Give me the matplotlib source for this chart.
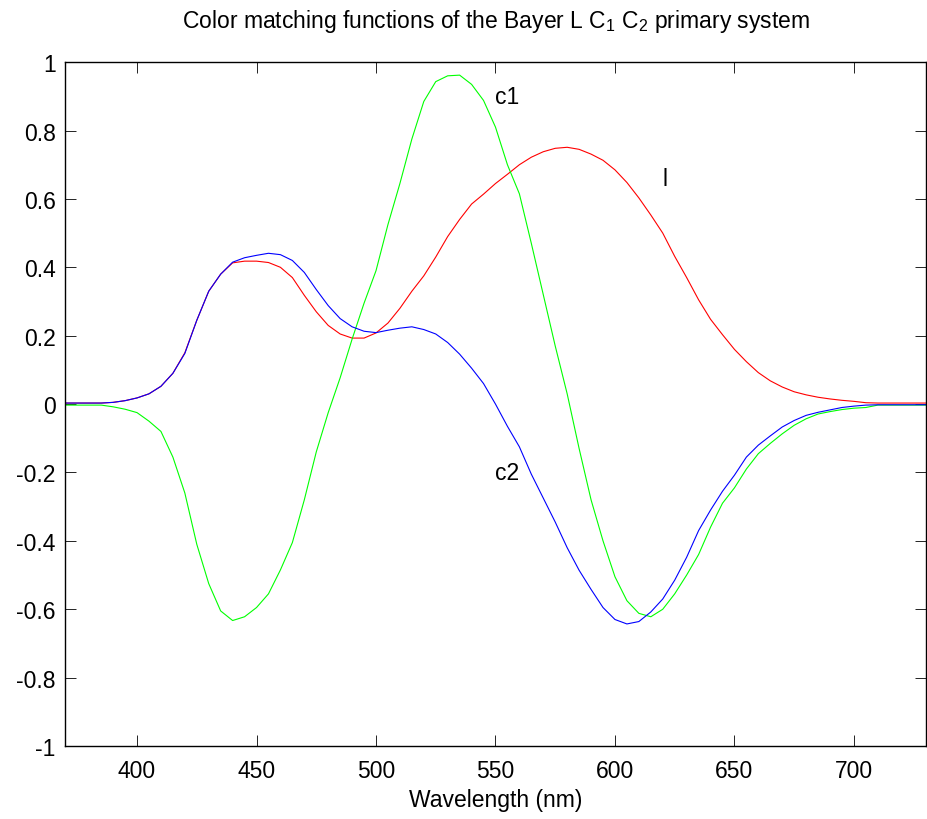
import matplotlib
matplotlib.use('Agg')
import matplotlib.pyplot as plt

plt.rcParams['font.family'] = ['Liberation Sans', 'DejaVu Sans']
plt.rcParams['mathtext.fontset'] = 'custom'
plt.rcParams['mathtext.rm'] = 'Liberation Sans'
plt.rcParams['mathtext.it'] = 'Liberation Sans'

# Wavelengths (nm), 5 nm step
wavelength = list(range(370, 735, 5))

# l (red)
l_vals = [0.003, 0.003, 0.003, 0.003, 0.005, 0.010, 0.018, 0.030, 0.052, 0.090,
          0.150, 0.245, 0.330, 0.380, 0.413, 0.418, 0.418, 0.414, 0.400, 0.370,
          0.318, 0.270, 0.230, 0.205, 0.193, 0.193, 0.208, 0.237, 0.280, 0.330,
          0.375, 0.430, 0.490, 0.540, 0.585, 0.614, 0.645, 0.672, 0.700, 0.722,
          0.738, 0.748, 0.751, 0.745, 0.731, 0.713, 0.685, 0.648, 0.603, 0.553,
          0.500, 0.432, 0.370, 0.305, 0.248, 0.203, 0.160, 0.124, 0.092, 0.068,
          0.050, 0.036, 0.027, 0.020, 0.015, 0.011, 0.008, 0.004, 0.003, 0.003,
          0.003, 0.003, 0.003]

# c1 (green)
c1_vals = [-0.003, -0.003, -0.003, -0.003, -0.008, -0.015, -0.025, -0.050, -0.080, -0.155,
           -0.260, -0.410, -0.525, -0.605, -0.633, -0.622, -0.595, -0.555, -0.485, -0.405,
           -0.280, -0.140, -0.025, 0.077, 0.190, 0.295, 0.390, 0.525, 0.645, 0.775,
           0.885, 0.943, 0.960, 0.962, 0.935, 0.888, 0.810, 0.700, 0.615, 0.470,
           0.320, 0.170, 0.030, -0.130, -0.280, -0.400, -0.505, -0.575, -0.612, -0.622,
           -0.600, -0.555, -0.500, -0.440, -0.360, -0.290, -0.245, -0.190, -0.145, -0.115,
           -0.087, -0.062, -0.043, -0.029, -0.022, -0.016, -0.012, -0.010, -0.003, -0.003,
           -0.003, -0.003, -0.003]

# c2 (blue)
c2_vals = [0.003, 0.003, 0.003, 0.003, 0.005, 0.010, 0.018, 0.030, 0.052, 0.090,
           0.148, 0.245, 0.330, 0.380, 0.415, 0.428, 0.435, 0.441, 0.437, 0.420,
           0.385, 0.335, 0.288, 0.250, 0.226, 0.213, 0.209, 0.216, 0.222, 0.226,
           0.218, 0.205, 0.180, 0.146, 0.105, 0.060, 0.000, -0.065, -0.125, -0.205,
           -0.275, -0.345, -0.420, -0.486, -0.542, -0.595, -0.630, -0.643, -0.636, -0.608,
           -0.570, -0.515, -0.448, -0.370, -0.310, -0.255, -0.208, -0.155, -0.120, -0.093,
           -0.067, -0.048, -0.033, -0.024, -0.017, -0.010, -0.006, -0.003, -0.002, -0.002,
           -0.002, -0.002, -0.002]

xticks = [400, 450, 500, 550, 600, 650, 700]
yticks = [-1, -0.8, -0.6, -0.4, -0.2, 0, 0.2, 0.4, 0.6, 0.8, 1]
ytick_labels = ['-1', '-0.8', '-0.6', '-0.4', '-0.2', '0', '0.2', '0.4', '0.6', '0.8', '1']

fs = 16.5

fig = plt.figure(figsize=(9.27, 8.2), dpi=100)
ax = fig.add_axes([0.0705, 0.089, 0.928, 0.834])

ax.plot(wavelength, l_vals, color='#ff0000', lw=0.8)
ax.plot(wavelength, c1_vals, color='#00ff00', lw=0.8)
ax.plot(wavelength, c2_vals, color='#0000ff', lw=0.8)

# curve labels
ax.text(550, 0.9, 'c1', fontsize=fs, va='center', ha='left')
ax.text(550, -0.2, 'c2', fontsize=fs, va='center', ha='left')
ax.text(620, 0.66, 'l', fontsize=fs, va='center', ha='left')

ax.set_xlim(370, 730)
ax.set_ylim(-1, 1)
ax.set_xticks(xticks)
ax.set_xticklabels([str(t) for t in xticks])
ax.set_yticks(yticks)
ax.set_yticklabels(ytick_labels)
ax.tick_params(direction='in', length=8, width=0.6, labelsize=fs,
               top=True, right=True)
ax.tick_params(axis='x', pad=9)
ax.tick_params(axis='y', pad=7)
for sp in ax.spines.values():
    sp.set_linewidth(1.0)

ax.set_xlabel('Wavelength (nm)', fontsize=fs, labelpad=5)
ax.set_title('Color matching functions of the Bayer L C$_1$ C$_2$ primary system',
             fontsize=fs, pad=25)

fig.savefig('out.png', dpi=100)
